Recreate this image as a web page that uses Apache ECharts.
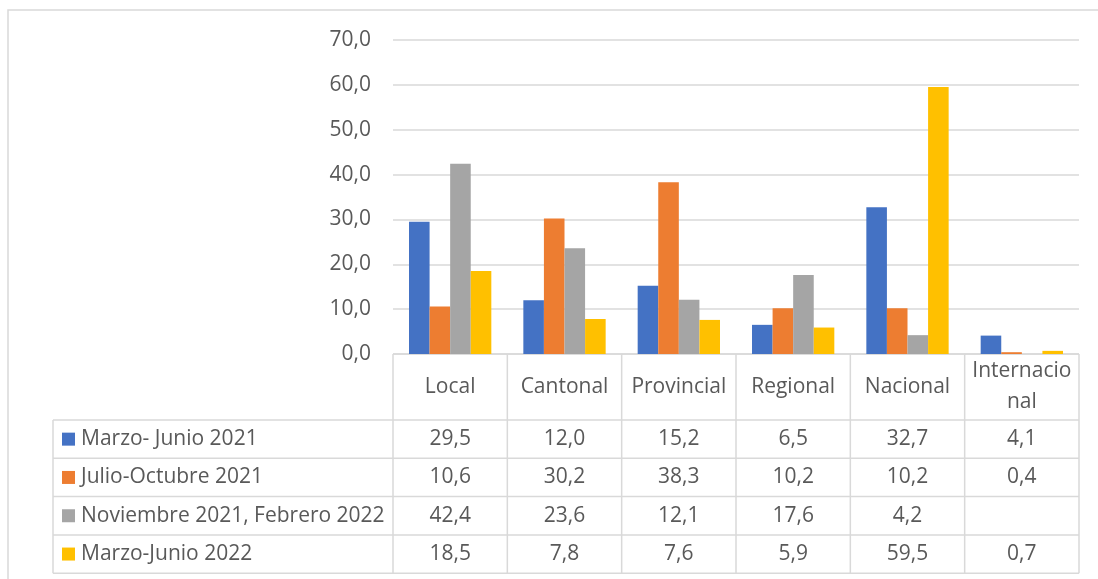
<!DOCTYPE html>
<html>
<head>
<meta charset="utf-8">
<script src="https://cdn.jsdelivr.net/npm/echarts@6/dist/echarts.min.js"></script>
<style>
  html, body { margin: 0; padding: 0; background: #fff; }
  #main { width: 1098px; height: 579px; }
</style>
</head>
<body>
<div id="main"></div>
<script>
// datos del gráfico
var categories = ['Local', 'Cantonal', 'Provincial', 'Regional', 'Nacional', 'Internacional'];
var seriesNames = ['Marzo- Junio 2021', 'Julio-Octubre 2021', 'Noviembre 2021, Febrero 2022', 'Marzo-Junio 2022'];
var marzoJunio2021 = [29.5, 12.0, 15.2, 6.5, 32.7, 4.1];
var julioOctubre2021 = [10.6, 30.2, 38.3, 10.2, 10.2, 0.4];
var noviembre2021Febrero2022 = [42.4, 23.6, 12.1, 17.6, 4.2, null];
var marzoJunio2022 = [18.5, 7.8, 7.6, 5.9, 59.5, 0.7];
var yTicks = [0, 10, 20, 30, 40, 50, 60, 70];

var seriesData = [marzoJunio2021, julioOctubre2021, noviembre2021Febrero2022, marzoJunio2022];
var colors = ['#4472C4', '#ED7D31', '#A5A5A5', '#FFC000'];

var FONT = '"Open Sans", sans-serif';
var FS = 21;
var TXT = '#595959';
var LINE = '#D9D9D9';

// geometría
var gridLeft = 393, gridRight = 1079, gridTop = 40, gridBottom = 354;
var legendLeft = 53;
var headerBottom = 420;
var rowH = 38.3;

function fmt(v) {
  if (v === null || v === undefined) return '';
  return v.toFixed(1).replace('.', ',');
}

// corta las etiquetas largas como en la tabla de Excel
function wrapLabel(t) {
  return t.length > 10 ? t.slice(0, 10) + '\n' + t.slice(10) : t;
}

var chart = echarts.init(document.getElementById('main'));

function buildTable() {
  var g = [];
  var colW = (gridRight - gridLeft) / categories.length;
  var nRows = seriesNames.length;
  var tableBottom = headerBottom + rowH * nRows;
  var font = FS + 'px ' + FONT;

  // marco exterior
  g.push({ type: 'rect', shape: { x: 8, y: 10, width: 1200, height: 700 },
    style: { fill: 'none', stroke: LINE, lineWidth: 1.5 } });

  // líneas horizontales
  g.push({ type: 'line', shape: { x1: gridLeft, y1: gridBottom, x2: gridRight, y2: gridBottom },
    style: { stroke: LINE, lineWidth: 1.5 } });
  for (var r = 0; r <= nRows; r++) {
    var y = headerBottom + r * rowH;
    g.push({ type: 'line', shape: { x1: legendLeft, y1: y, x2: gridRight, y2: y },
      style: { stroke: LINE, lineWidth: 1.5 } });
  }
  // líneas verticales
  g.push({ type: 'line', shape: { x1: legendLeft, y1: headerBottom, x2: legendLeft, y2: tableBottom },
    style: { stroke: LINE, lineWidth: 1.5 } });
  for (var c = 0; c <= categories.length; c++) {
    var x = gridLeft + c * colW;
    g.push({ type: 'line', shape: { x1: x, y1: gridBottom, x2: x, y2: tableBottom },
      style: { stroke: LINE, lineWidth: 1.5 } });
  }

  // encabezados de categoría
  for (var i = 0; i < categories.length; i++) {
    g.push({ type: 'text', x: gridLeft + (i + 0.5) * colW, y: (gridBottom + headerBottom) / 2,
      style: { text: wrapLabel(categories[i]), font: font, fill: TXT, align: 'center', verticalAlign: 'middle',
        lineHeight: 31 } });
  }

  // filas de la leyenda + valores
  for (var s = 0; s < nRows; s++) {
    var cy = headerBottom + (s + 0.5) * rowH;
    g.push({ type: 'rect', shape: { x: 62, y: cy - 6.5, width: 13, height: 13 }, style: { fill: colors[s] } });
    g.push({ type: 'text', x: 81, y: cy,
      style: { text: seriesNames[s], font: font, fill: TXT, align: 'left', verticalAlign: 'middle' } });
    for (var k = 0; k < categories.length; k++) {
      g.push({ type: 'text', x: gridLeft + (k + 0.5) * colW, y: cy,
        style: { text: fmt(seriesData[s][k]), font: font, fill: TXT, align: 'center', verticalAlign: 'middle' } });
    }
  }
  return g;
}

var option = {
  animation: false,
  color: colors,
  grid: { left: gridLeft, right: 1098 - gridRight, top: gridTop, bottom: 579 - gridBottom, containLabel: false },
  xAxis: {
    type: 'category',
    data: categories,
    axisLine: { show: false },
    axisTick: { show: false },
    axisLabel: { show: false }
  },
  yAxis: {
    type: 'value',
    min: yTicks[0],
    max: yTicks[yTicks.length - 1],
    interval: 10,
    axisLine: { show: false },
    axisTick: { show: false },
    axisLabel: { formatter: fmt, color: TXT, fontSize: FS, fontFamily: FONT, margin: 22 },
    splitLine: { lineStyle: { color: LINE, width: 1.5 } }
  },
  series: seriesNames.map(function (n, i) {
    return {
      name: n,
      type: 'bar',
      data: seriesData[i],
      barGap: '0%',
      barCategoryGap: '28%'
    };
  }),
  graphic: buildTable()
};

chart.setOption(option);
</script>
</body>
</html>
